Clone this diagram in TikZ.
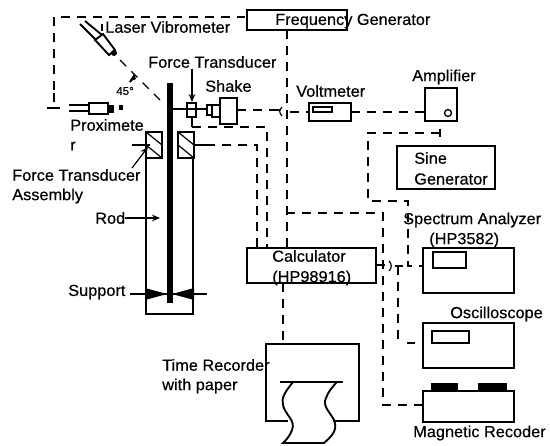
\documentclass[tikz,border=0pt]{standalone}
\usepackage{fontspec}
\setmainfont{Liberation Sans}[FakeBold=0.5,FakeStretch=1.02]
\usetikzlibrary{arrows.meta}
\tikzset{
  box/.style={draw,line width=1.4pt},
  thin box/.style={draw,line width=1pt},
  wire/.style={line width=0.9pt},
  dash wire/.style={line width=0.9pt,dash pattern=on 6.5pt off 5.5pt},
  lab/.style={anchor=west,inner sep=0pt,font=\fontsize{12}{14}\selectfont},
  tip/.style={-{Stealth[length=6pt,width=5pt]},line width=0.9pt}
}
\begin{document}
\begin{tikzpicture}[x=0.75pt,y=-0.75pt]
\useasboundingbox (0,0) rectangle (550,446);
% instruments
\draw[box] (247,10) rectangle (347,30);
\node[lab] (freq) at (275,21) {Frequency Generator};
\draw[box] (309,103) rectangle (351,121);
\draw[thin box] (313,107) rectangle (332,112);
\draw[box] (425,88) rectangle (457,121);
\draw[thin box] (448,113) circle (3.5);
\draw[box] (397,146) rectangle (495,189);
\draw[box] (247,248) rectangle (376,283);
\draw[box] (423,248) rectangle (514,293);
\draw[thin box] (433,252) rectangle (466,268);
\draw[box] (423,323) rectangle (514,368);
\draw[thin box] (432,331) rectangle (469,343);
\draw[box] (423,391) rectangle (514,422);
\fill (431,383) rectangle (458,391);
\fill (478,383) rectangle (507,391);
% time recorder
\draw[box] (288,421) -- (266,421) -- (266,344) -- (359,344) -- (359,421) -- (333,421);
\draw[box] (280,382) -- (343,382);
\draw[box] (293,382) .. controls (285,392) and (281,398) .. (283,405)
  .. controls (285,415) and (296,420) .. (292,430) .. controls (290,436) and (286,440) .. (283,443)
  -- (324,443) .. controls (332,436) and (338,430) .. (334,420)
  .. controls (330,412) and (322,406) .. (326,398) .. controls (328,392) and (333,386) .. (337,382);
% rod assembly
\draw[line width=3.8pt] (170,83) -- (170,303);
\draw[box] (146,158) -- (146,314) -- (193,314) -- (193,158);
\draw[box] (146,132) rectangle (162,158);
\draw[box] (178,132) rectangle (194,158);
\draw[wire] (146,132) -- (162,145) (146,145) -- (162,158);
\draw[wire] (178,132) -- (194,145) (178,145) -- (194,158);
\draw[box] (132,145) -- (150,145);
\draw[box] (194,145) -- (206,145);
\fill (145,288) -- (167,294) -- (145,300) -- cycle;
\fill (194,288) -- (172,294) -- (194,300) -- cycle;
\draw[wire] (130,294) -- (207,294);
% shaker
\draw[wire] (170,109) -- (187,109);
\draw[box] (187,103) rectangle (196,117);
\draw[wire] (187,109) -- (196,109);
\draw[wire] (196,109) -- (207,109);
\draw[box] (207,105) rectangle (212,115);
\draw[box] (212,105) rectangle (220,117);
\draw[box] (220,98) rectangle (237,124);
% laser
\draw[line width=1.4pt] (80,24) -- (96,40) (85,21) -- (102,35);
\draw[box] (95,40) -- (103,34) -- (115,50) -- (109,55) -- cycle;
\fill (114,53) circle (3);
\draw[wire] (102,24) -- (102,31);
% proximeter
\draw[box] (69,105) -- (89,105) (69,111) -- (89,111);
\draw[box] (89,103) rectangle (108,114);
\fill (108,105) rectangle (114,113);
\fill (119,105) rectangle (123,110);
\draw[wire] (54,93) -- (54,102);
\draw[wire] (47,108) -- (60,108);
% dashed wires
\draw[dash wire] (54,90) -- (54,17) -- (245,17);
\draw[dash wire] (120,60) -- (163,103);
\draw[line width=1.4pt] (130,82) -- (135,75);
\fill (129,82) -- (134,74) -- (136,79) -- cycle;
\draw[dash wire] (287,30) -- (287,248);
\draw[dash wire] (237,110) -- (278,110);
\draw[wire] (278,110) -- (280,110);
\draw[wire] (282,107) .. controls (279,110) and (279,113) .. (282,116);
\draw[dash wire] (290,112) -- (309,112);
\draw[dash wire] (351,112) -- (425,112);
\draw[wire] (192,117) -- (192,127);
\draw[dash wire] (192,127) -- (267,127) -- (267,248);
\draw[dash wire] (206,145) -- (257,145) -- (257,248);
\draw[dash wire] (283,283) -- (283,344);
\draw[dash wire] (286,213) -- (383,213) -- (383,405) -- (423,405);
\draw[dash wire] (440,133) -- (368,133) -- (368,201) -- (408,201) -- (408,266) -- (423,266);
\draw[wire] (440,129) -- (440,137);
\draw[dash wire] (376,265) -- (388,265);
\draw[wire] (389,261) .. controls (392,264) and (392,268) .. (389,271);
\draw[wire] (395,266) -- (403,266);
\draw[dash wire] (398,266) -- (398,345);
\draw[wire] (407,343) -- (415,343);
% arrows
\draw[tip] (192,69) -- (192,102);
\draw[tip] (132,168) -- (148,147);
\draw[tip] (125,218) -- (160,218);
% labels
\node[lab] (lv) at (105,27) {Laser Vibrometer};
\node[lab] (ft) at (148,62) {Force Transducer};
\node[lab] (sh) at (205,86) {Shake};
\node[lab] (vm) at (296,91) {Voltmeter};
\node[lab] (am) at (412,77) {Amplifier};
\node[lab,font=\fontsize{8.5}{10}\selectfont] (ang) at (116,91) {45°};
\node[lab] (px) at (70,125) {Proximete};
\node[lab] (pr) at (70,146) {r};
\node[lab] (fa) at (12,175) {Force Transducer};
\node[lab] (as) at (12,196) {Assembly};
\node[lab] (rd) at (95,218) {Rod};
\node[lab] (su) at (68,292) {Support};
\node[lab] (s1) at (414,158) {Sine};
\node[lab] (s2) at (414,179) {Generator};
\node[lab] (sa) at (403,220) {Spectrum Analyzer};
\node[lab] (hp) at (429,240) {(HP3582)};
\node[lab] (ca) at (272,256) {Calculator};
\node[lab] (cb) at (272,278) {(HP98916)};
\node[lab] (os) at (450,314) {Oscilloscope};
\node[lab] (tr) at (162,365) {Time Recorder};
\node[lab] (wp) at (162,386) {with paper};
\node[lab] (mr) at (413,433) {Magnetic Recoder};
\end{tikzpicture}
\end{document}
